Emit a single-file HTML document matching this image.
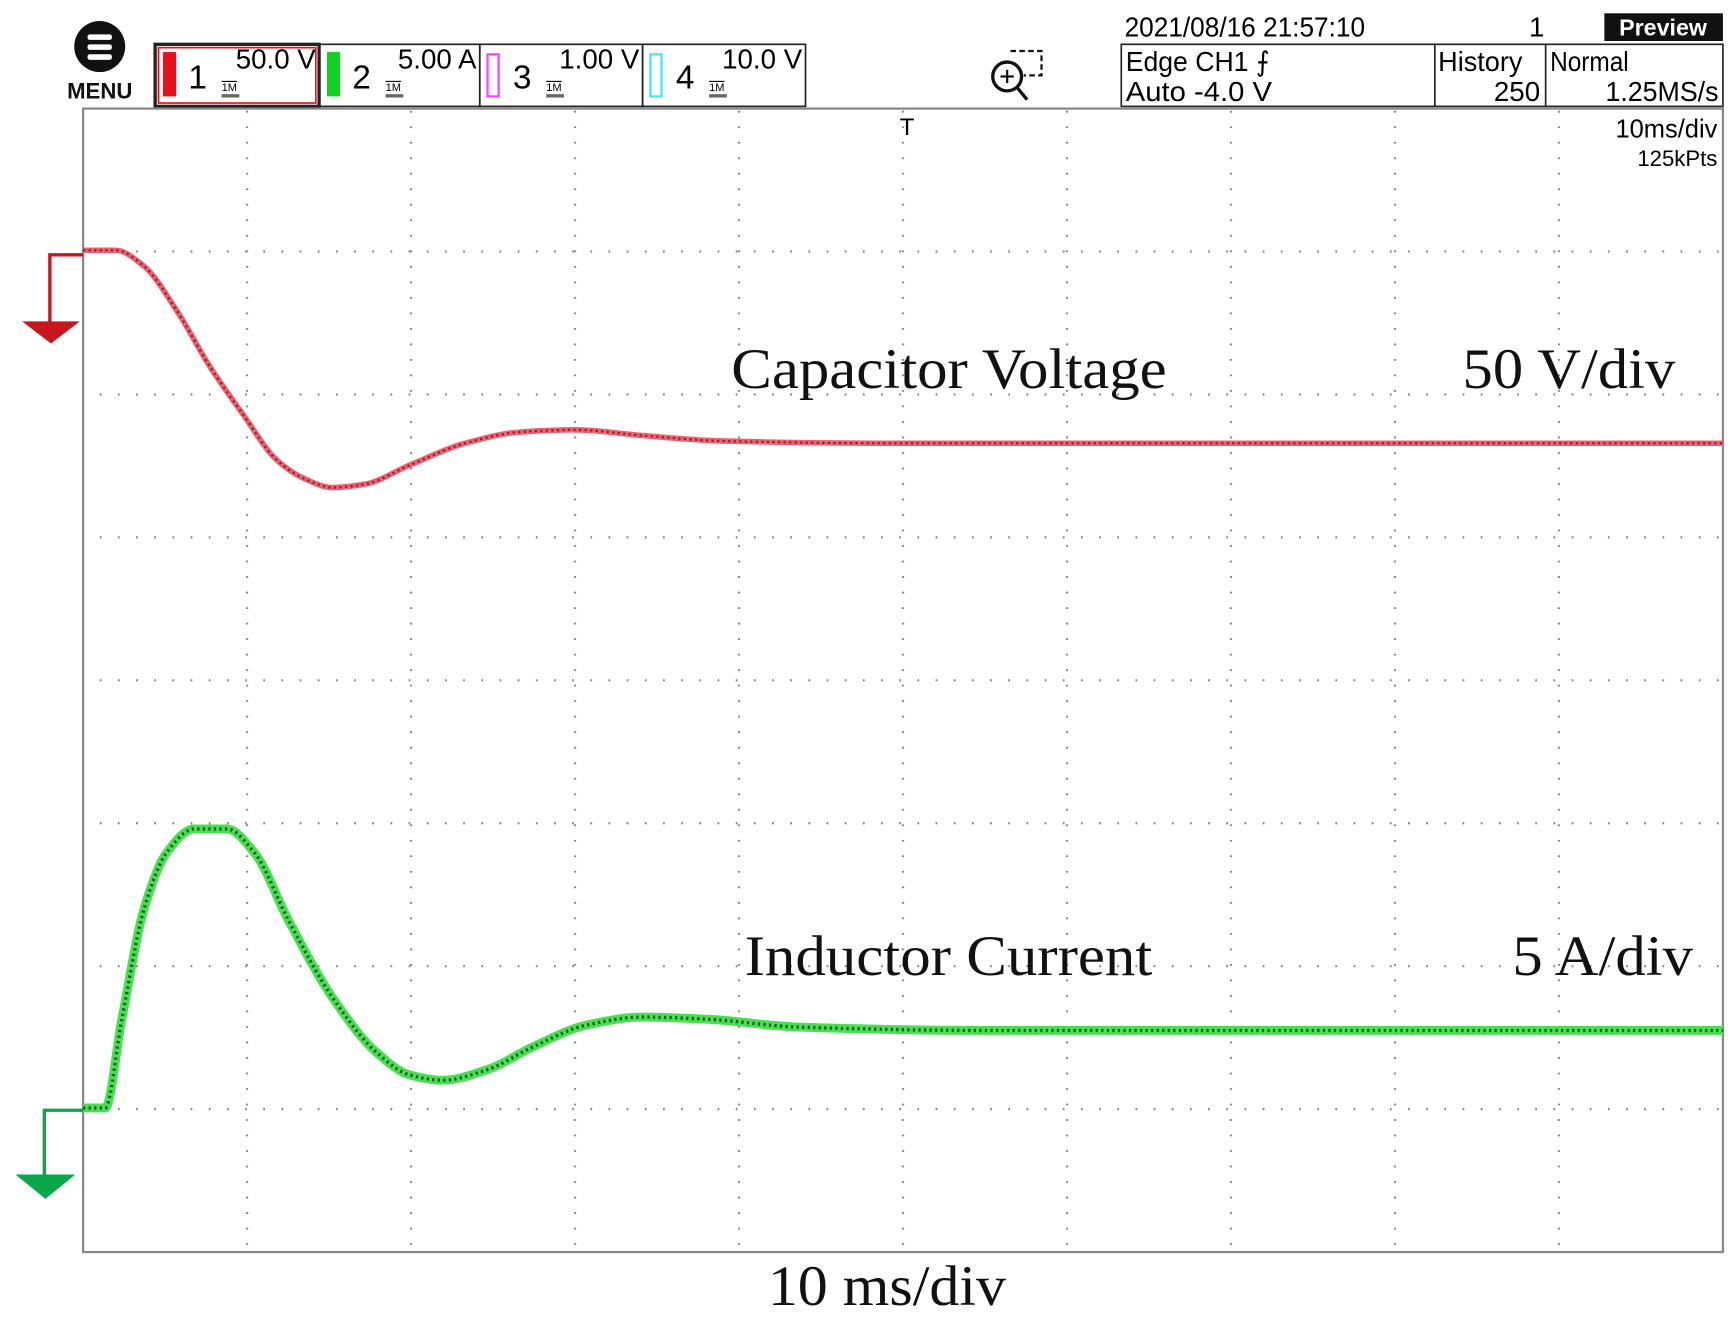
<!DOCTYPE html>
<html><head><meta charset="utf-8"><style>
html,body{margin:0;padding:0;background:#fff;}
svg{display:block;}
.n{font-family:"Liberation Sans Narrow","Liberation Sans",sans-serif;}
.s{font-family:"Liberation Serif",serif;fill:#111;}
</style></head><body>
<svg id="scope" width="1734" height="1317" viewBox="0 0 1565 1188.6" preserveAspectRatio="none" xmlns="http://www.w3.org/2000/svg">
<g>
<circle cx="90" cy="42" r="23" fill="#111"/>
<rect x="79" y="31" width="22" height="5" rx="2" fill="#fff"/><rect x="79" y="40" width="22" height="5" rx="2" fill="#fff"/><rect x="79" y="49" width="22" height="5" rx="2" fill="#fff"/>
<text x="90" y="89" text-anchor="middle" font-family="Liberation Sans,sans-serif" font-weight="bold" font-size="20" fill="#111">MENU</text>
</g>
<g id="chans"></g>
<g stroke="#111" stroke-width="3" fill="none">
<circle cx="909" cy="69" r="13"/><line x1="918" y1="79" x2="927" y2="90"/><line x1="903" y1="69" x2="915" y2="69" stroke-width="2"/><line x1="909" y1="63" x2="909" y2="75" stroke-width="2"/>
<path d="M912 46 H940 V68 H924" stroke-width="2" stroke-dasharray="5 3"/>
</g>
<text class="n" x="1015" y="33" font-size="25" textLength="217" lengthAdjust="spacingAndGlyphs">2021/08/16 21:57:10</text>
<text class="n" x="1380" y="33" font-size="25">1</text>
<g><rect x="1448" y="12" width="107" height="25" fill="#111"/><text class="n" x="1501" y="32" font-size="21" fill="#fff" text-anchor="middle" font-weight="bold">Preview</text></g>
<g>
<rect x="1012" y="40" width="543" height="56" fill="none" stroke="#222" stroke-width="1.5"/>
<line x1="1295" y1="40" x2="1295" y2="96" stroke="#222" stroke-width="1.5"/><line x1="1395" y1="40" x2="1395" y2="96" stroke="#222" stroke-width="1.5"/>
<text class="n" x="1016" y="64" font-size="25" textLength="130" lengthAdjust="spacingAndGlyphs">Edge CH1 ⨍</text>
<text class="n" x="1016" y="91" font-size="25" textLength="132" lengthAdjust="spacingAndGlyphs">Auto -4.0 V</text>
<text class="n" x="1298" y="64" font-size="25" textLength="76" lengthAdjust="spacingAndGlyphs">History</text>
<text class="n" x="1390" y="91" font-size="25" text-anchor="end">250</text>
<text class="n" x="1399" y="64" font-size="25" textLength="71" lengthAdjust="spacingAndGlyphs">Normal</text>
<text class="n" x="1551" y="91" font-size="25" text-anchor="end" textLength="102" lengthAdjust="spacingAndGlyphs">1.25MS/s</text>
</g>
<g id="grid"></g>
<rect x="75" y="98" width="1480" height="1032" fill="none" stroke="#888" stroke-width="2"/>
<text class="n" x="812" y="122" font-size="22">T</text>
<text class="n" x="1550" y="124" font-size="23" text-anchor="end">10ms/div</text>
<text class="n" x="1550" y="150" font-size="20" text-anchor="end">125kPts</text>
<g id="traces"></g>
<g fill="#c8161d" stroke="#c8161d">
<path d="M75 230 H45 V292" fill="none" stroke-width="3"/><polygon points="20,290 72,290 46,310" stroke="none"/></g>
<g fill="#08a84a" stroke="#08a84a">
<path d="M75 1002 H40 V1062" fill="none" stroke-width="3"/><polygon points="14,1060 68,1060 41,1082" stroke="none"/></g>
<text class="s" x="660" y="350" font-size="52" textLength="393" lengthAdjust="spacingAndGlyphs">Capacitor Voltage</text>
<text class="s" x="1320" y="350" font-size="52" textLength="192" lengthAdjust="spacingAndGlyphs">50 V/div</text>
<text class="s" x="672" y="880" font-size="52" textLength="368" lengthAdjust="spacingAndGlyphs">Inductor Current</text>
<text class="s" x="1365" y="880" font-size="52" textLength="163" lengthAdjust="spacingAndGlyphs">5 A/div</text>
<text class="s" x="693" y="1178" font-size="52" textLength="215" lengthAdjust="spacingAndGlyphs">10 ms/div</text>
</svg>
<script>
const timeMs=[0,2,3.7,5.7,7.7,9.8,11.8,13.5,15.2,17.2,19.9,23.3,26.6,30,34.1,38.9,49,100];
const voltageV=[1.6,1.6,-3.9,-19.4,-38.8,-56.2,-71.7,-78.3,-81.4,-80.2,-73.6,-65.9,-62,-61.2,-63.2,-65.1,-65.9,-65.9];
const timeMsI=[0,1.35,2.36,3.72,5.07,6.76,8.78,10.47,12.5,15.2,17.9,19.9,21.9,24.7,27.4,30.7,34.1,38.2,43.6,55.7,100];
const currentA=[0.08,0.08,3.18,7.05,8.99,9.84,9.84,8.99,6.67,3.95,2.02,1.24,1.05,1.43,2.21,2.98,3.26,3.18,2.91,2.79,2.79];
const channels=[["1","50.0 V","#e8101a"],["2","5.00 A","#10d020"],["3","1.00 V","#ff40ff"],["4","10.0 V","#40e8f0"]];
const NS="http://www.w3.org/2000/svg";
function mk(t,a,p){const e=document.createElementNS(NS,t);for(const k in a)e.setAttribute(k,a[k]);p.appendChild(e);return e;}
const X=t=>75+t*14.8;
const YV=v=>230-v/50*129;
const YI=a=>1002-a/5*129;
const cg=document.getElementById('chans');
const bx=[140,288,433,580,727];
channels.forEach((c,i)=>{
 const g=mk('g',{},cg);
 
 
 const x0=bx[i],w=bx[i+1]-bx[i];
 mk('rect',{x:x0,y:40,width:w,height:56,fill:'none',stroke:'#222','stroke-width':i==0?3:1.5},g);
 if(i==0)mk('rect',{x:x0+3,y:43,width:w-6,height:50,fill:'none',stroke:'#e8101a','stroke-width':1.5},g);
 if(i<2)mk('rect',{x:x0+7,y:47,width:12,height:40,fill:c[2]},g);
 else mk('rect',{x:x0+7,y:49,width:10,height:38,fill:'none',stroke:c[2],'stroke-width':2},g);
 const n=mk('text',{x:x0+30,y:80,'font-size':30,class:'n'},g);n.textContent=c[0];
 const v=mk('text',{x:x0+w-3,y:62,'font-size':25,class:'n','text-anchor':'end'},g);v.textContent=c[1];
 const m=mk('text',{x:x0+60,y:82,'font-size':10,class:'n','text-decoration':'overline'},g);m.textContent='1M';
 mk('rect',{x:x0+60,y:85,width:16,height:3,fill:'#666'},g);
});
const gg=document.getElementById('grid');
for(let i=1;i<10;i++){mk('line',{x1:75+i*148,y1:100,x2:75+i*148,y2:1128,stroke:'#888','stroke-width':2,'stroke-dasharray':'1.6 12.4'},gg);}
for(let j=1;j<8;j++){mk('line',{x1:90,y1:98+j*129,x2:1553,y2:98+j*129,stroke:'#888','stroke-width':2,'stroke-dasharray':'1.6 14.8'},gg);}
// monotone cubic (Fritsch-Carlson) path, no overshoot
function path(ts,vs,yf){
 const x=ts.map(X),y=vs.map(yf),n=x.length;
 const d=[],m=new Array(n);
 for(let i=0;i<n-1;i++)d.push((y[i+1]-y[i])/(x[i+1]-x[i]));
 m[0]=d[0];m[n-1]=d[n-2];
 for(let i=1;i<n-1;i++){
  if(d[i-1]*d[i]<=0)m[i]=0;
  else{const w1=2*(x[i+1]-x[i])+(x[i]-x[i-1]),w2=(x[i+1]-x[i])+2*(x[i]-x[i-1]);m[i]=(w1+w2)/(w1/d[i-1]+w2/d[i]);}
 }
 let s='M'+x[0]+' '+y[0];
 for(let i=0;i<n-1;i++){
  const h=(x[i+1]-x[i])/3;
  s+=` C${x[i]+h} ${y[i]+m[i]*h} ${x[i+1]-h} ${y[i+1]-m[i+1]*h} ${x[i+1]} ${y[i+1]}`;
 }
 return s;
}
const tg=document.getElementById('traces');
const dv=path(timeMs,voltageV,YV);
const r1=mk('path',{d:dv,fill:'none',stroke:'#ec6070','stroke-width':5},tg);


mk('path',{d:dv,fill:'none',stroke:'#902028','stroke-width':2,'stroke-dasharray':'2 3'},tg);
const di=path(timeMsI,currentA,YI);
const g1=mk('path',{d:di,fill:'none',stroke:'#48e050','stroke-width':8},tg);


mk('path',{d:di,fill:'none',stroke:'#1a5a22','stroke-width':3,'stroke-dasharray':'2 3'},tg);
</script>
</body></html>
